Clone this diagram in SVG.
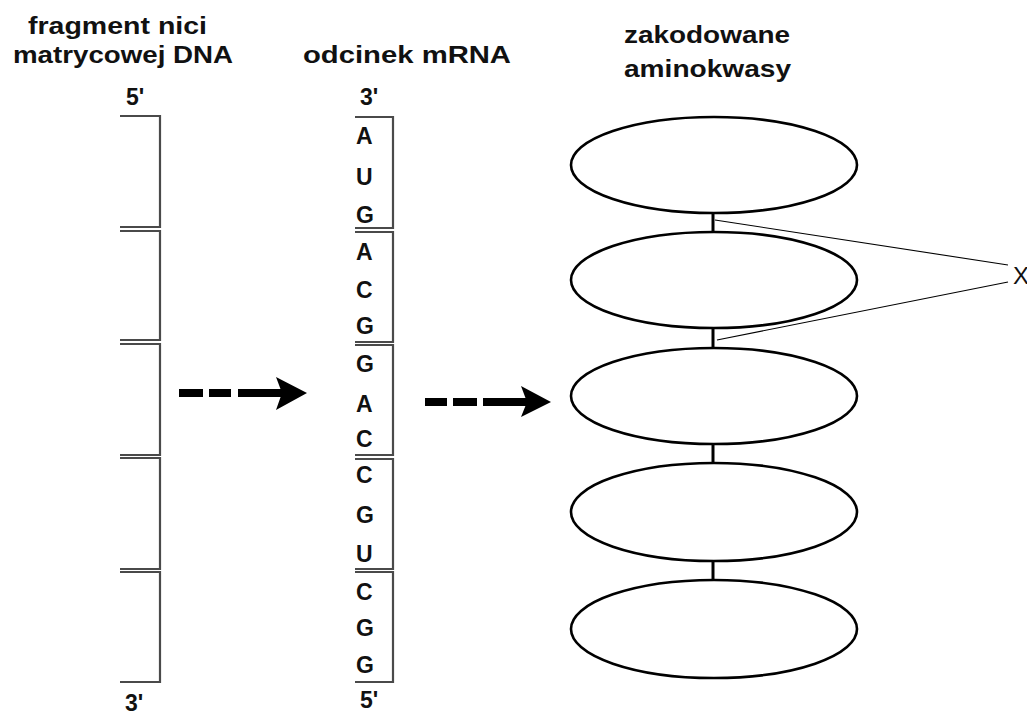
<svg xmlns="http://www.w3.org/2000/svg" width="1027" height="715" viewBox="0 0 1027 715">
<style>
.t{font-family:"Liberation Sans",Arial,sans-serif;font-weight:bold;fill:#111;}
.br{fill:none;stroke:#4a4a4a;stroke-width:2.2;}
.nt{font-family:"Liberation Sans",Arial,sans-serif;font-weight:bold;font-size:23px;fill:#111;}
.el{fill:#fff;stroke:#000;stroke-width:2.6;}
.bond{stroke:#000;stroke-width:3;}
.thin{stroke:#000;stroke-width:1.1;fill:none;}
.dash{stroke:#000;stroke-width:8;}
</style>
<rect width="1027" height="715" fill="#fff"/>
<g id="titles">
<text class="t" x="28" y="34" font-size="24" textLength="179" lengthAdjust="spacingAndGlyphs">fragment nici</text>
<text class="t" x="13" y="63" font-size="24" textLength="220" lengthAdjust="spacingAndGlyphs">matrycowej DNA</text>
<text class="t" x="303" y="63" font-size="24" textLength="208" lengthAdjust="spacingAndGlyphs">odcinek  mRNA</text>
<text class="t" x="624" y="43" font-size="24" textLength="166" lengthAdjust="spacingAndGlyphs">zakodowane</text>
<text class="t" x="624" y="77" font-size="24" textLength="167" lengthAdjust="spacingAndGlyphs">aminokwasy</text>
</g>
<g id="dna">
<text class="t" x="126" y="105" font-size="23">5'</text>
<text class="t" x="125" y="711" font-size="23">3'</text>
<path class="br" d="M120,116 H160 V227 H120"/>
<path class="br" d="M120,231 H160 V340 H120"/>
<path class="br" d="M120,344 H160 V455 H120"/>
<path class="br" d="M120,458 H160 V569 H120"/>
<path class="br" d="M120,572 H160 V682 H120"/>
</g>
<g id="mrna">
<text class="t" x="360" y="105" font-size="23">3'</text>
<text class="t" x="360" y="708" font-size="23">5'</text>
<path class="br" d="M355,117 H393 V228 H355"/>
<path class="br" d="M355,232 H393 V342 H355"/>
<path class="br" d="M355,345 H393 V455 H355"/>
<path class="br" d="M355,459 H393 V569 H355"/>
<path class="br" d="M355,572 H393 V682 H355"/>
<text class="nt" x="356" y="144">A</text>
<text class="nt" x="356" y="185">U</text>
<text class="nt" x="356" y="223">G</text>
<text class="nt" x="356" y="260">A</text>
<text class="nt" x="356" y="298">C</text>
<text class="nt" x="356" y="334">G</text>
<text class="nt" x="356" y="372">G</text>
<text class="nt" x="356" y="412">A</text>
<text class="nt" x="356" y="447">C</text>
<text class="nt" x="356" y="483">C</text>
<text class="nt" x="356" y="523">G</text>
<text class="nt" x="356" y="562">U</text>
<text class="nt" x="356" y="600">C</text>
<text class="nt" x="356" y="636">G</text>
<text class="nt" x="356" y="673">G</text>
</g>
<g id="aa1"><ellipse class="el" cx="714" cy="165" rx="143" ry="48"/></g>
<g id="aa2"><ellipse class="el" cx="714" cy="280" rx="143" ry="48"/></g>
<g id="aa3"><ellipse class="el" cx="714" cy="396" rx="143" ry="48"/></g>
<g id="aa4"><ellipse class="el" cx="714" cy="512" rx="143" ry="49"/></g>
<g id="aa5"><ellipse class="el" cx="714" cy="629" rx="143" ry="49"/></g>
<g id="label-x"><text x="1013" y="284" font-family="Liberation Sans,Arial,sans-serif" font-size="24" fill="#111">X</text></g>
<g id="connectors">
<line class="bond" x1="713" y1="213" x2="713" y2="232"/>
<line class="bond" x1="713" y1="328" x2="713" y2="348"/>
<line class="bond" x1="713" y1="444" x2="713" y2="463"/>
<line class="bond" x1="713" y1="561" x2="713" y2="580"/>
<line class="thin" x1="715" y1="220" x2="1008" y2="265"/>
<line class="thin" x1="717" y1="340" x2="1008" y2="282"/>
<line class="dash" x1="179" y1="393" x2="203" y2="393"/>
<line class="dash" x1="209" y1="393" x2="231" y2="393"/>
<line class="dash" x1="238" y1="393" x2="284" y2="393"/>
<path d="M307,393 L276,377 L282,393 L276,410 Z" fill="#000"/>
<line class="dash" x1="425" y1="402" x2="447" y2="402"/>
<line class="dash" x1="453" y1="402" x2="477" y2="402"/>
<line class="dash" x1="483" y1="402" x2="528" y2="402"/>
<path d="M551,402 L521,386 L527,402 L521,417 Z" fill="#000"/>
</g>
</svg>
